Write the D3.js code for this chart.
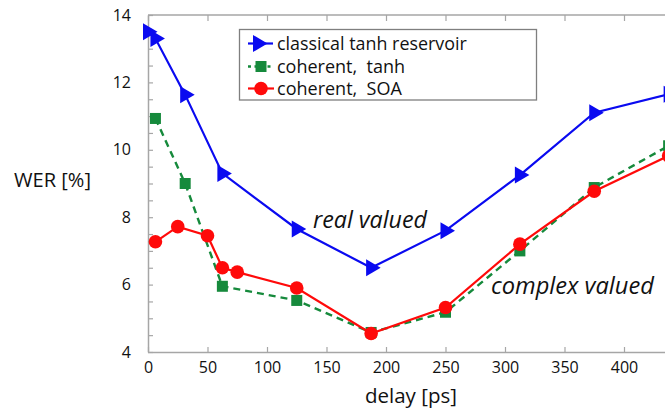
<!DOCTYPE html>
<html>
<head>
<meta charset="utf-8">
<script src="https://cdn.jsdelivr.net/npm/d3@7/dist/d3.min.js"></script>
<style>
  html, body { margin: 0; padding: 0; background: #fff; overflow: hidden; }
  svg { display: block; font-family: "Open Sans", "Noto Sans", sans-serif; }
</style>
</head>
<body>
<svg id="chart" width="665" height="409"></svg>
<script>
// ---- data ----
const delaysClassical = [0, 6.25, 31.25, 62.5, 125, 187.5, 250, 312.5, 375, 437.5];
const werClassical    = [13.5, 13.3, 11.63, 9.3, 7.65, 6.5, 7.6, 9.25, 11.1, 11.65];

const delaysTanh = [6.25, 31.25, 62.5, 125, 187.5, 250, 312.5, 375, 437.5];
const werTanh    = [10.93, 9.0, 5.95, 5.53, 4.58, 5.18, 7.0, 8.88, 10.12];

const delaysSOA = [6.25, 25, 50, 62.5, 75, 125, 187.5, 250, 312.5, 375, 437.5];
const werSOA    = [7.27, 7.72, 7.45, 6.5, 6.37, 5.9, 4.55, 5.32, 7.2, 8.77, 9.82];

const xTickValues = [0, 50, 100, 150, 200, 250, 300, 350, 400];
const yTickLabels = [4, 6, 8, 10, 12, 14];
const seriesNames = ["classical tanh reservoir", "coherent,\u00a0\u00a0tanh", "coherent,\u00a0\u00a0SOA"];

// ---- layout ----
const svg = d3.select("#chart");
const x0 = 148, yTop = 15, yBot = 352;
const x = d3.scaleLinear().domain([0, 400]).range([x0, x0 + 476]);
const y = d3.scaleLinear().domain([4, 14]).range([yBot, yTop]);
const axisColor = "#a6a6a6";

svg.append("rect").attr("width", 665).attr("height", 409).attr("fill", "#fff");

function fitWidth(sel, target) {
  const w = sel.node().getComputedTextLength();
  const fs = parseFloat(sel.attr("font-size"));
  if (w > 0) sel.attr("font-size", (fs * target / w).toFixed(2));
}

// frame lines
const frame = svg.append("g").attr("stroke", axisColor).attr("stroke-width", 1.5).attr("fill", "none");
frame.append("line").attr("x1", x0).attr("x2", 700).attr("y1", yTop).attr("y2", yTop);

// y axis (ticks inward every 0.5)
const yMinor = d3.range(4, 14.01, 0.5);
const yAxis = d3.axisLeft(y).tickValues(yMinor).tickSizeInner(-5).tickSizeOuter(0)
  .tickFormat(d => yTickLabels.includes(d) ? d : "").tickPadding(17);
const gy = svg.append("g").attr("transform", `translate(${x0},0)`).call(yAxis);
gy.select(".domain").attr("stroke", axisColor).attr("stroke-width", 1.5);
gy.selectAll(".tick line").attr("stroke", axisColor).attr("stroke-width", 1.2);
gy.selectAll(".tick text").attr("font-size", 16).attr("fill", "#111")
  .attr("font-family", '"Open Sans", sans-serif');

// x axis bottom (ticks inward)
const xAxis = d3.axisBottom(x).tickValues(xTickValues).tickSizeInner(-5).tickSizeOuter(0)
  .tickPadding(10);
const gx = svg.append("g").attr("transform", `translate(0,${yBot})`).call(xAxis);
gx.select(".domain").attr("d", `M${x0},0.5H700`).attr("stroke", axisColor).attr("stroke-width", 1.5);
gx.selectAll(".tick line").attr("stroke", axisColor).attr("stroke-width", 1.2);
gx.selectAll(".tick text").attr("font-size", 16).attr("fill", "#111")
  .attr("font-family", '"Open Sans", sans-serif');

// top ticks (inward)
const xTop = d3.axisTop(x).tickValues(xTickValues).tickSizeInner(-6).tickSizeOuter(0).tickFormat("");
const gxt = svg.append("g").attr("transform", `translate(0,${yTop})`).call(xTop);
gxt.select(".domain").remove();
gxt.selectAll(".tick line").attr("stroke", axisColor).attr("stroke-width", 1.2);

// axis titles
const tY = svg.append("text").attr("x", 14).attr("y", 187).attr("font-size", 20)
  .attr("fill", "#111").text("WER [%]");
fitWidth(tY, 77);
const tX = svg.append("text").attr("x", 365).attr("y", 403).attr("font-size", 20)
  .attr("fill", "#111").text("delay [ps]");
fitWidth(tX, 92);

// annotations
const a1 = svg.append("text").attr("x", 313).attr("y", 228).attr("font-size", 22)
  .attr("font-style", "italic").attr("fill", "#111").text("real valued");
fitWidth(a1, 114);
const a2 = svg.append("text").attr("x", 491).attr("y", 294).attr("font-size", 22)
  .attr("font-style", "italic").attr("fill", "#111").text("complex valued");
fitWidth(a2, 163);

// series
const blue = "#0a0af0", green = "#168a3c", red = "#ff0a0a";
const triPath = "M-5,-8.5L9.5,0L-5,8.5Z";
const line = d3.line().x(d => x(d[0])).y(d => y(d[1]));

const dataClassical = delaysClassical.map((d, i) => [d, werClassical[i]]);
const dataTanh = delaysTanh.map((d, i) => [d, werTanh[i]]);
const dataSOA = delaysSOA.map((d, i) => [d, werSOA[i]]);

// classical
svg.append("path").datum(dataClassical).attr("d", line).attr("fill", "none")
  .attr("stroke", blue).attr("stroke-width", 2.2);
svg.append("g").selectAll("path").data(dataClassical).join("path")
  .attr("d", triPath).attr("transform", d => `translate(${x(d[0])},${y(d[1])})`)
  .attr("fill", blue);

// coherent tanh
svg.append("path").datum(dataTanh).attr("d", line).attr("fill", "none")
  .attr("stroke", green).attr("stroke-width", 2.4).attr("stroke-dasharray", "7,5");
svg.append("g").selectAll("rect").data(dataTanh).join("rect")
  .attr("x", d => x(d[0]) - 5.5).attr("y", d => y(d[1]) - 5.5)
  .attr("width", 11).attr("height", 11).attr("fill", green);

// coherent SOA
svg.append("path").datum(dataSOA).attr("d", line).attr("fill", "none")
  .attr("stroke", red).attr("stroke-width", 2.2);
svg.append("g").selectAll("circle").data(dataSOA).join("circle")
  .attr("cx", d => x(d[0])).attr("cy", d => y(d[1])).attr("r", 6.8).attr("fill", red);

// legend
const lg = svg.append("g");
lg.append("rect").attr("x", 239.5).attr("y", 29.5).attr("width", 297).attr("height", 70.5)
  .attr("fill", "#fff").attr("stroke", "#7f7f7f").attr("stroke-width", 1.3);
const rowsY = [43.5, 66.5, 88.5];
const widths = [190, 128, 125];
// row 1
lg.append("line").attr("x1", 248).attr("x2", 273).attr("y1", rowsY[0]).attr("y2", rowsY[0])
  .attr("stroke", blue).attr("stroke-width", 2.2);
lg.append("path").attr("d", triPath).attr("transform", `translate(258,${rowsY[0]})`).attr("fill", blue);
// row 2
lg.append("line").attr("x1", 248).attr("x2", 274).attr("y1", rowsY[1]).attr("y2", rowsY[1])
  .attr("stroke", green).attr("stroke-width", 2.4).attr("stroke-dasharray", "3,3.5");
lg.append("rect").attr("x", 255.5).attr("y", rowsY[1] - 5.5).attr("width", 11).attr("height", 11).attr("fill", green);
// row 3
lg.append("line").attr("x1", 248).attr("x2", 274).attr("y1", rowsY[2]).attr("y2", rowsY[2])
  .attr("stroke", red).attr("stroke-width", 2.2);
lg.append("circle").attr("cx", 261).attr("cy", rowsY[2]).attr("r", 6.8).attr("fill", red);

seriesNames.forEach((name, i) => {
  const t = lg.append("text").attr("x", 277).attr("y", rowsY[i] + 6).attr("font-size", 17)
    .attr("fill", "#111").text(name);
  fitWidth(t, widths[i]);
});
</script>
</body>
</html>
